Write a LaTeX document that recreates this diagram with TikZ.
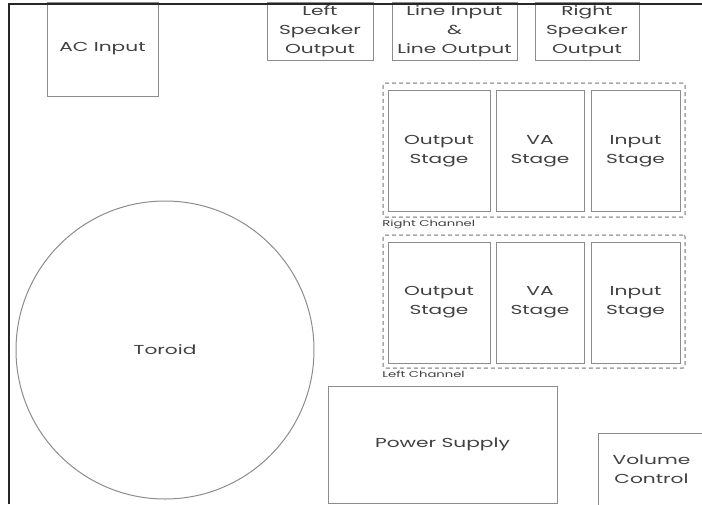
\documentclass[tikz,border=0pt]{standalone}
\usepackage{fontspec}
\setmainfont[FakeStretch=1.55]{Poppins}
\usetikzlibrary{positioning}

\definecolor{boxgray}{HTML}{8C8C8C}
\definecolor{textgray}{HTML}{404040}
\definecolor{dashgray}{HTML}{A8A8A8}

\begin{document}
\begin{tikzpicture}[
    x=1pt, y=-1pt,
    block/.style={rectangle, draw=boxgray, line width=1pt, text=textgray, align=center, inner sep=0pt, font=\fontsize{13}{19}\selectfont},
    stage/.style={block, minimum height=121pt},
    channel/.style={rectangle, draw=dashgray, line width=1.5pt, dash pattern=on 4pt off 3pt, rounded corners=2pt, inner sep=0pt},
    tag/.style={text=textgray, inner sep=0pt, anchor=north west, font=\fontsize{8.5}{9}\selectfont},
    frame/.style={draw=black!85, line width=2pt}
]
\useasboundingbox (0,0) rectangle (702,504);
\clip (0,0) rectangle (702,504);

% Connectors on the back panel
\node[block, minimum width=111pt, minimum height=94pt] (acin) at (102.5,49) {AC Input};
\node[block, minimum width=106pt, minimum height=58pt] (lspk) at (320,31) {Left\\Speaker\\Output};
\node[block, minimum width=125pt, minimum height=58pt] (line) at (454.5,31) {Line Input\\\&\\Line Output};
\node[block, minimum width=104pt, minimum height=58pt] (rspk) at (587,31) {Right\\Speaker\\Output};

% Right channel
\node[channel, minimum width=302pt, minimum height=134pt] (rch) at (534,150) {};
\node[stage, minimum width=102pt] (rout) at (439,151) {Output\\Stage};
\node[stage, minimum width=88pt] (rva) at (540,151) {VA\\Stage};
\node[stage, minimum width=89pt] (rin) at (635.5,151) {Input\\Stage};
\node[tag] (rtag) at ([yshift=-2pt]rch.south west) {Right Channel};

% Left channel
\node[channel, minimum width=302pt, minimum height=133pt] (lch) at (534,301.5) {};
\node[stage, minimum width=102pt] (lout) at (439,302.5) {Output\\Stage};
\node[stage, minimum width=88pt] (lva) at (540,302.5) {VA\\Stage};
\node[stage, minimum width=89pt] (lin) at (635.5,302.5) {Input\\Stage};
\node[tag] (ltag) at ([yshift=-2pt]lch.south west) {Left Channel};

% Power
\node[block, circle, minimum size=298pt] (toroid) at (165,350) {Toroid};
\node[block, minimum width=229pt, minimum height=117pt] (psu) at (442.5,444.5) {Power Supply};
\node[block, minimum width=107pt, minimum height=72pt] (vol) at (651.5,469) {Volume\\Control};

% Chassis edge
\draw[frame] (9,504) -- (9,4) -- (702,4);

\end{tikzpicture}
\end{document}
